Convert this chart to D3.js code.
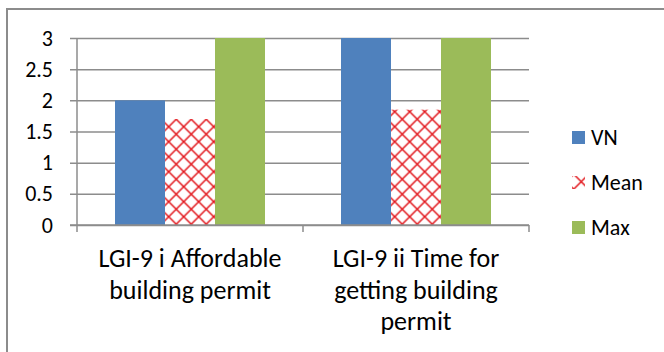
<!DOCTYPE html>
<html>
<head>
<meta charset="utf-8">
<script src="https://cdn.jsdelivr.net/npm/d3@7/dist/d3.min.js"></script>
<style>
  body { margin: 0; background: #fff; }
  svg { display: block; }
  text { font-family: Carlito, Calibri, Lato, sans-serif; fill: #000; }
</style>
</head>
<body>
<svg id="chart" width="664" height="352"></svg>
<script>
// Category labels, one entry per line
const categories = ["LGI-9 i", "LGI-9 ii"];
const categoryLines = [
  ["LGI-9 i Affordable", "building permit"],
  ["LGI-9 ii Time for", "getting building", "permit"]
];
const seriesNames = ["VN", "Mean", "Max"];
const vnValues = [2, 3];
const meanValues = [1.7, 1.85];
const maxValues = [3, 3];
const yTicks = [0, 0.5, 1, 1.5, 2, 2.5, 3];

const svg = d3.select("#chart");
const plot = { left: 77, right: 529, top: 38, bottom: 225 };
const gridColor = "#8c8c8c";

// Patterned fill for the Mean series (outlined diamond lattice)
const defs = svg.append("defs");
const pat = defs.append("pattern")
  .attr("id", "diamond")
  .attr("patternUnits", "userSpaceOnUse")
  .attr("x", 1.7).attr("y", 6.7)
  .attr("width", 15).attr("height", 15);
pat.append("rect").attr("width", 15).attr("height", 15).attr("fill", "#fff");
pat.append("path")
  .attr("d", "M-7.5,-7.5L22.5,22.5M22.5,-7.5L-7.5,22.5M-7.5,7.5L7.5,-7.5M7.5,22.5L22.5,7.5M-7.5,7.5L7.5,22.5M7.5,-7.5L22.5,7.5")
  .attr("stroke", "#e2151b")
  .attr("stroke-width", 1.5)
  .attr("fill", "none");

// Outer chart-area border
svg.append("rect")
  .attr("x", 7).attr("y", 9)
  .attr("width", 700).attr("height", 400)
  .attr("fill", "none")
  .attr("stroke", gridColor)
  .attr("stroke-width", 2);

const x0 = d3.scaleBand().domain(categories).range([plot.left, plot.right]).padding(0);
const x1 = d3.scaleBand().domain(seriesNames).range([0, x0.bandwidth()])
  .paddingInner(0).paddingOuter(0.76);
const y = d3.scaleLinear().domain([0, 3]).range([plot.bottom, plot.top]);

// Horizontal gridlines with tick labels
const yAxis = svg.append("g")
  .attr("transform", `translate(70,0)`)
  .call(d3.axisLeft(y).tickValues(yTicks).tickFormat(d3.format("")).tickSize(-(plot.right - 70)).tickPadding(17));
yAxis.select(".domain").remove();
yAxis.selectAll(".tick line").attr("stroke", gridColor).attr("stroke-width", 1.5);
yAxis.selectAll(".tick text").style("font-size", "22px").attr("fill", "#000");

// Vertical axis line
svg.append("line")
  .attr("x1", plot.left).attr("x2", plot.left)
  .attr("y1", plot.top).attr("y2", plot.bottom)
  .attr("stroke", gridColor).attr("stroke-width", 1.5);

// Bars
const seriesValues = { VN: vnValues, Mean: meanValues, Max: maxValues };
const fills = { VN: "#4f81bd", Mean: "url(#diamond)", Max: "#9bbb59" };
const groups = svg.append("g").selectAll("g")
  .data(categories)
  .join("g")
  .attr("transform", d => `translate(${x0(d)},0)`);
groups.selectAll("rect")
  .data((c, i) => seriesNames.map(s => ({ s, v: seriesValues[s][i] })))
  .join("rect")
  .attr("x", d => x1(d.s))
  .attr("width", x1.bandwidth())
  .attr("y", d => y(d.v))
  .attr("height", d => y(0) - y(d.v))
  .attr("fill", d => fills[d.s]);

// Category axis with boundary ticks
const xAxis = svg.append("g")
  .attr("transform", `translate(0,${plot.bottom})`)
  .call(d3.axisBottom(x0).tickSize(0).tickFormat(""));
xAxis.select(".domain").remove();
svg.append("line")
  .attr("x1", 70).attr("x2", plot.right)
  .attr("y1", plot.bottom).attr("y2", plot.bottom)
  .attr("stroke", gridColor).attr("stroke-width", 1.5);
const bounds = categories.map(c => x0(c)).concat([x0(categories[categories.length - 1]) + x0.bandwidth()]);
svg.append("g").selectAll("line")
  .data(bounds)
  .join("line")
  .attr("x1", d => d).attr("x2", d => d)
  .attr("y1", plot.bottom).attr("y2", plot.bottom + 7)
  .attr("stroke", gridColor).attr("stroke-width", 1.5);

xAxis.selectAll(".tick").each(function (c, i) {
  const t = d3.select(this).append("text")
    .attr("text-anchor", "middle")
    .style("font-size", "26px");
  categoryLines[i].forEach((line, k) => {
    t.append("tspan").attr("x", 0).attr("y", 42 + k * 31.5).text(line);
  });
});

// Legend
const legend = svg.append("g").selectAll("g")
  .data(seriesNames)
  .join("g")
  .attr("transform", (d, i) => `translate(572,${137.5 + i * 45})`);
legend.append("rect")
  .attr("x", 0).attr("y", -6.5)
  .attr("width", 13).attr("height", 13)
  .attr("fill", d => fills[d]);
legend.append("text")
  .attr("x", 19).attr("y", 0)
  .attr("dy", "0.35em")
  .style("font-size", "22px")
  .text(d => d);
</script>
</body>
</html>
